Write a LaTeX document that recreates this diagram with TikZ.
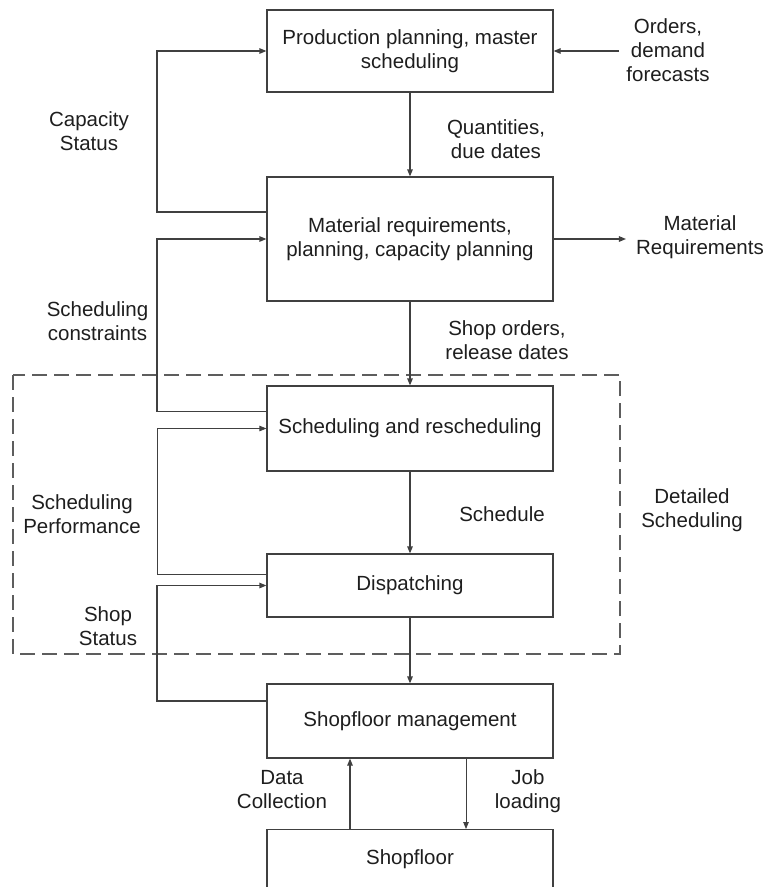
\documentclass[tikz,border=0pt]{standalone}
\usepackage{fontspec}
\setmainfont{Liberation Sans}
\usetikzlibrary{arrows.meta}
\definecolor{linegray}{HTML}{404040}
\definecolor{textgray}{HTML}{1E1E1E}
\begin{document}
\begin{tikzpicture}[x=1pt,y=-1pt,
  every node/.style={text=textgray,font=\fontsize{20.5}{24}\selectfont},
  block/.style={draw=linegray,line width=1.2pt,minimum width=286pt,align=center,inner sep=0pt},
  lbl/.style={align=center,inner sep=0pt},
  flow/.style={draw=linegray,line width=1.2pt,-{Triangle[length=7pt,width=5.5pt]}},
  thinflow/.style={flow,line width=0.8pt},
  groupbox/.style={draw=linegray!85,line width=1.2pt,dash pattern=on 15pt off 7pt}]
\useasboundingbox (0,0) rectangle (766,887);
\clip (0,0) rectangle (766,887);

% boxes of the planning chain
\node[block,minimum height=82pt] (plan) at (410,51) {Production planning, master\\scheduling};
\node[block,minimum height=124pt] (mrp) at (410,239) {Material requirements,\\planning, capacity planning};
\node[block,minimum height=85pt] (sched) at (410,428.5) {Scheduling and rescheduling};
\node[block,minimum height=63pt] (disp) at (410,585.5) {Dispatching};
\node[block,minimum height=74pt] (sfm) at (410,721) {Shopfloor management};
\node[block,anchor=north,text height=35pt,text depth=45pt] (floor) at (410,829) {Shopfloor};

% grouping of the detailed scheduling stage
\draw[groupbox] (13,375) rectangle (620,654);

% labels
\node[lbl] (capstat) at (89,131.5) {Capacity\\Status};
\node[lbl] (qty) at (496,139.5) {Quantities,\\due dates};
\node[lbl,inner xsep=7pt] (orders) at (668,50) {Orders,\\demand\\forecasts};
\node[lbl] (matreq) at (700,237.5) {Material\\Requirements};
\node[lbl] (constr) at (97.5,321) {Scheduling\\constraints};
\node[lbl] (shopord) at (507,340) {Shop orders,\\release dates};
\node[lbl] (perf) at (82,514) {Scheduling\\Performance};
\node[lbl] (shopstat) at (108,626.5) {Shop\\Status};
\node[lbl] (schedlbl) at (502,514) {Schedule};
\node[lbl] (detail) at (692,510) {Detailed\\Scheduling};
\node[lbl] (datacol) at (282,790) {Data\\Collection};
\node[lbl] (jobload) at (528,791) {Job\\loading};

% main downward flow
\draw[flow] (plan) -- (mrp);
\draw[flow] (mrp) -- (sched);
\draw[flow] (sched) -- (disp);
\draw[flow] (disp) -- (sfm);
\draw[flow] ([xshift=-60pt]floor.north) -- ([xshift=-60pt]sfm.south);
\draw[thinflow] ([xshift=56pt]sfm.south) -- ([xshift=56pt]floor.north);

% external inputs and outputs
\draw[flow] (orders.west |- plan.east) -- (plan.east);
\draw[flow] (mrp.east) -- ([xshift=-10pt]matreq.west |- mrp.east);

% feedback loops on the left
\draw[flow] (mrp.west |- 0,212) -- (157,212) |- (plan.west);
\draw[flow] (sched.west |- 0,411.7) -- (157,411.7) |- (mrp.west);
\draw[thinflow] (disp.west |- 0,574) -- (157,574) |- (sched.west);
\draw[flow] (sfm.west |- 0,701) -- (157,701) |- (disp.west);
\end{tikzpicture}
\end{document}
